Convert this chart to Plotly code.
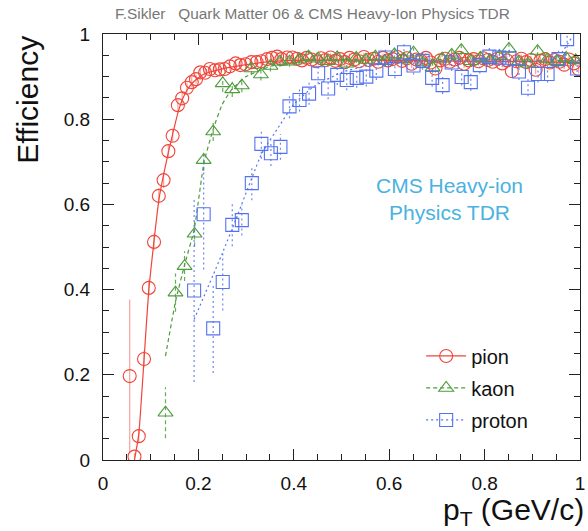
import plotly.graph_objects as go

# ---------------- data ----------------
pion_pt = [0.056, 0.066, 0.075, 0.086, 0.096, 0.107, 0.117, 0.127, 0.137, 0.146,
           0.157, 0.166, 0.176, 0.186, 0.195, 0.204, 0.214, 0.224, 0.235, 0.245,
           0.255, 0.266, 0.278, 0.288, 0.299, 0.311, 0.322, 0.332, 0.344, 0.354,
           0.365, 0.374, 0.386, 0.397, 0.407, 0.417, 0.427, 0.437, 0.447, 0.457,
           0.467, 0.477, 0.487, 0.497, 0.507, 0.517, 0.527, 0.537, 0.547, 0.557,
           0.567, 0.577, 0.587, 0.597, 0.607, 0.617, 0.627, 0.637, 0.647, 0.657,
           0.667, 0.677, 0.687, 0.697, 0.707, 0.717, 0.727, 0.737, 0.747, 0.757,
           0.767, 0.777, 0.787, 0.797, 0.807, 0.817, 0.827, 0.837, 0.847, 0.857,
           0.867, 0.877, 0.887, 0.897, 0.907, 0.917, 0.927, 0.937, 0.947, 0.957,
           0.967, 0.977, 0.987, 0.997]
pion_eff = [0.197, 0.008, 0.056, 0.237, 0.404, 0.512, 0.620, 0.657, 0.725, 0.761,
            0.833, 0.849, 0.874, 0.887, 0.894, 0.910, 0.909, 0.918, 0.915, 0.917,
            0.918, 0.924, 0.931, 0.927, 0.929, 0.934, 0.934, 0.936, 0.941, 0.944,
            0.947, 0.941, 0.945, 0.945, 0.942, 0.938, 0.944, 0.940, 0.936, 0.943,
            0.939, 0.945, 0.937, 0.941, 0.934, 0.944, 0.940, 0.936, 0.946, 0.939,
            0.942, 0.935, 0.944, 0.938, 0.941, 0.946, 0.937, 0.943, 0.930, 0.940,
            0.936, 0.944, 0.933, 0.919, 0.938, 0.942, 0.935, 0.940, 0.944, 0.930,
            0.938, 0.941, 0.936, 0.943, 0.939, 0.935, 0.942, 0.931, 0.938, 0.913,
            0.936, 0.942, 0.934, 0.939, 0.916, 0.937, 0.941, 0.933, 0.939, 0.935,
            0.928, 0.940, 0.931, 0.918]
pion_err = [0.180, 0.008, 0.015, 0.020, 0.020, 0.020, 0.018, 0.018, 0.016, 0.015,
            0.014, 0.013, 0.012, 0.012, 0.011, 0.010, 0.010, 0.010, 0.010, 0.010,
            0.010, 0.010, 0.010, 0.010, 0.010, 0.010, 0.010, 0.010, 0.010, 0.010,
            0.010, 0.010, 0.010, 0.010, 0.010, 0.010, 0.010, 0.010, 0.010, 0.010,
            0.010, 0.010, 0.010, 0.010, 0.010, 0.010, 0.010, 0.010, 0.010, 0.010,
            0.010, 0.010, 0.010, 0.010, 0.010, 0.010, 0.010, 0.010, 0.010, 0.010,
            0.010, 0.010, 0.010, 0.010, 0.010, 0.010, 0.010, 0.010, 0.010, 0.010,
            0.010, 0.010, 0.010, 0.010, 0.010, 0.010, 0.010, 0.010, 0.010, 0.010,
            0.010, 0.010, 0.010, 0.010, 0.010, 0.010, 0.010, 0.010, 0.010, 0.010,
            0.010, 0.010, 0.010, 0.010]

kaon_pt = [0.131, 0.152, 0.171, 0.192, 0.211, 0.231, 0.251, 0.271, 0.291, 0.311,
           0.331, 0.351, 0.371, 0.391, 0.411, 0.431, 0.451, 0.471, 0.491, 0.511,
           0.531, 0.551, 0.571, 0.591, 0.611, 0.631, 0.651, 0.671, 0.691, 0.711,
           0.731, 0.751, 0.771, 0.791, 0.811, 0.831, 0.851, 0.871, 0.891, 0.911,
           0.931, 0.951, 0.971, 0.991]
kaon_eff = [0.111, 0.393, 0.455, 0.531, 0.704, 0.771, 0.884, 0.870, 0.879, 0.919,
            0.905, 0.925, 0.935, 0.935, 0.940, 0.947, 0.942, 0.936, 0.945, 0.930,
            0.944, 0.939, 0.947, 0.936, 0.952, 0.941, 0.956, 0.933, 0.921, 0.942,
            0.951, 0.962, 0.936, 0.944, 0.938, 0.948, 0.965, 0.934, 0.930, 0.960,
            0.940, 0.936, 0.944, 0.938]
kaon_err = [0.060, 0.045, 0.035, 0.030, 0.025, 0.022, 0.020, 0.018, 0.016, 0.015,
            0.014, 0.013, 0.012, 0.012, 0.012, 0.012, 0.012, 0.012, 0.012, 0.012,
            0.012, 0.012, 0.012, 0.012, 0.012, 0.012, 0.012, 0.012, 0.012, 0.012,
            0.012, 0.012, 0.012, 0.012, 0.012, 0.012, 0.012, 0.012, 0.012, 0.012,
            0.012, 0.012, 0.012, 0.012]

proton_pt = [0.191, 0.211, 0.231, 0.251, 0.271, 0.291, 0.312, 0.332, 0.352, 0.372,
             0.391, 0.412, 0.432, 0.451, 0.472, 0.491, 0.511, 0.532, 0.552, 0.573,
             0.592, 0.612, 0.631, 0.651, 0.670, 0.690, 0.712, 0.731, 0.752, 0.771,
             0.790, 0.810, 0.831, 0.852, 0.872, 0.891, 0.912, 0.932, 0.955, 0.973,
             0.994]
proton_eff = [0.398, 0.577, 0.309, 0.418, 0.552, 0.563, 0.650, 0.742, 0.720, 0.735,
              0.830, 0.845, 0.860, 0.908, 0.872, 0.904, 0.892, 0.897, 0.900, 0.914,
              0.945, 0.918, 0.957, 0.926, 0.937, 0.897, 0.880, 0.933, 0.899, 0.887,
              0.927, 0.947, 0.945, 0.943, 0.912, 0.874, 0.906, 0.906, 0.941, 0.988,
              0.919]
proton_err = [0.215, 0.130, 0.105, 0.067, 0.050, 0.036, 0.040, 0.035, 0.030, 0.030,
              0.028, 0.027, 0.026, 0.025, 0.025, 0.024, 0.024, 0.023, 0.023, 0.022,
              0.022, 0.022, 0.021, 0.021, 0.021, 0.021, 0.021, 0.020, 0.020, 0.020,
              0.020, 0.020, 0.020, 0.020, 0.020, 0.020, 0.020, 0.020, 0.020, 0.020,
              0.020]

# fitted efficiency curves, sampled at knots
pion_fit_pt = [0.066, 0.075, 0.086, 0.096, 0.107, 0.117, 0.127, 0.137, 0.146, 0.157,
               0.166, 0.176, 0.190, 0.210, 0.250, 0.300, 0.350, 0.400, 0.500, 0.700,
               0.900, 1.000]
pion_fit_eff = [0.000, 0.060, 0.235, 0.400, 0.515, 0.610, 0.670, 0.722, 0.765, 0.815,
                0.845, 0.868, 0.888, 0.905, 0.918, 0.928, 0.935, 0.938, 0.939, 0.937,
                0.935, 0.933]
kaon_fit_pt = [0.131, 0.152, 0.171, 0.191, 0.212, 0.232, 0.250, 0.270, 0.300, 0.350,
               0.400, 0.500, 0.700, 1.000]
kaon_fit_eff = [0.244, 0.372, 0.458, 0.540, 0.700, 0.780, 0.835, 0.870, 0.900, 0.924,
                0.934, 0.940, 0.940, 0.938]
proton_fit_pt = [0.191, 0.250, 0.278, 0.333, 0.370, 0.400, 0.440, 0.500, 0.550, 0.600,
                 0.700, 0.800, 0.900, 0.953, 0.984]
proton_fit_eff = [0.330, 0.485, 0.563, 0.720, 0.785, 0.835, 0.875, 0.910, 0.925, 0.935,
                  0.935, 0.935, 0.935, 0.945, 0.994]

x_ticks = [0, 0.2, 0.4, 0.6, 0.8, 1]
x_tick_text = ["0", "0.2", "0.4", "0.6", "0.8", "1"]
y_ticks = [0, 0.2, 0.4, 0.6, 0.8, 1]
y_tick_text = ["0", "0.2", "0.4", "0.6", "0.8", "1"]

species = [
    # name, pt, eff, err, fit pt, fit eff, colour, bar colour, dash, symbol, size
    ("pion", pion_pt, pion_eff, pion_err, pion_fit_pt, pion_fit_eff,
     "#f0453a", "rgba(240,69,58,0.5)", "solid", "circle-open", 13),
    ("kaon", kaon_pt, kaon_eff, kaon_err, kaon_fit_pt, kaon_fit_eff,
     "#4e9c3e", "rgba(78,156,62,0.85)", "4px,3px", "triangle-up-open", 13),
    ("proton", proton_pt, proton_eff, proton_err, proton_fit_pt, proton_fit_eff,
     "#5372f2", "rgba(83,114,242,0.85)", "2px,3px", "square-open", 13),
]

FONT = "Liberation Sans, Arial, Helvetica, sans-serif"

fig = go.Figure()

for name, pt, eff, err, fpt, feff, col, barcol, dash, sym, size in species:
    # vertical error bars as dashed/dotted segments
    bx, by = [], []
    for xv, yv, ev in zip(pt, eff, err):
        bx += [xv, xv, None]
        by += [max(yv - ev, 0.0), yv + ev, None]
    fig.add_trace(go.Scatter(x=bx, y=by, mode="lines", showlegend=False,
                             hoverinfo="skip",
                             line=dict(color=barcol, width=1.2, dash=dash)))
    # fitted curve
    fig.add_trace(go.Scatter(x=fpt, y=feff, mode="lines", showlegend=False,
                             line=dict(color=col, width=1.2, dash=dash,
                                       shape="spline", smoothing=0.4)))
    # measured points
    fig.add_trace(go.Scatter(x=pt, y=eff, mode="markers", showlegend=False,
                             marker=dict(symbol=sym, size=size, color=col,
                                         line=dict(width=1.1, color=col))))
    # legend entry
    fig.add_trace(go.Scatter(x=[None], y=[None], mode="lines+markers", name=name,
                             legendgroup=name,
                             marker=dict(symbol=sym, size=size, color=col,
                                         line=dict(width=1.1, color=col)),
                             line=dict(color=col, width=1.2, dash=dash)))

axis_common = dict(
    showgrid=False, zeroline=False, showline=True, linecolor="#222", linewidth=1,
    mirror="ticks", ticks="inside", ticklen=11, tickcolor="#222", tickwidth=1,
    tickfont=dict(family=FONT, size=19, color="#111"),
    minor=dict(ticks="inside", ticklen=6, dtick=0.05, tickcolor="#222", tickwidth=1),
    range=[0, 1], ticklabeloverflow="allow",
)

fig.update_xaxes(tickvals=x_ticks, ticktext=x_tick_text, ticklabelstandoff=6,
                 **axis_common)
fig.update_yaxes(tickvals=y_ticks, ticktext=y_tick_text, ticklabelstandoff=8,
                 **axis_common)

fig.update_layout(
    width=588, height=531,
    margin=dict(l=103, r=3, t=34, b=71),
    paper_bgcolor="white", plot_bgcolor="white",
    font=dict(family=FONT),
    showlegend=True,
    legend=dict(x=0.667, y=0.29, xanchor="left", yanchor="top",
                bgcolor="rgba(0,0,0,0)", itemwidth=40, tracegroupgap=3,
                font=dict(family=FONT, size=20, color="#111")),
    annotations=[
        dict(text="F.Sikler\u00a0\u00a0\u00a0Quark Matter 06 & CMS Heavy-Ion Physics TDR",
             xref="paper", yref="paper", x=0.021, y=1.047, xanchor="left",
             yanchor="middle", showarrow=False,
             font=dict(family=FONT, size=15.4, color="#777")),
        dict(text="CMS Heavy-ion<br>Physics TDR", xref="paper", yref="paper",
             x=0.726, y=0.613, xanchor="center", yanchor="middle", showarrow=False,
             font=dict(family=FONT, size=21, color="#4ab2e0")),
        dict(text="Efficiency", xref="paper", yref="paper", x=-0.16, y=1.0,
             xanchor="center", yanchor="top", textangle=-90, showarrow=False,
             font=dict(family=FONT, size=30, color="#111")),
        dict(text="p<sub>T</sub> (GeV/c)", xref="paper", yref="paper", x=1.013,
             y=-0.122, xanchor="right", yanchor="middle", showarrow=False,
             font=dict(family=FONT, size=30, color="#111")),
    ],
)

fig.write_html("out.html")
